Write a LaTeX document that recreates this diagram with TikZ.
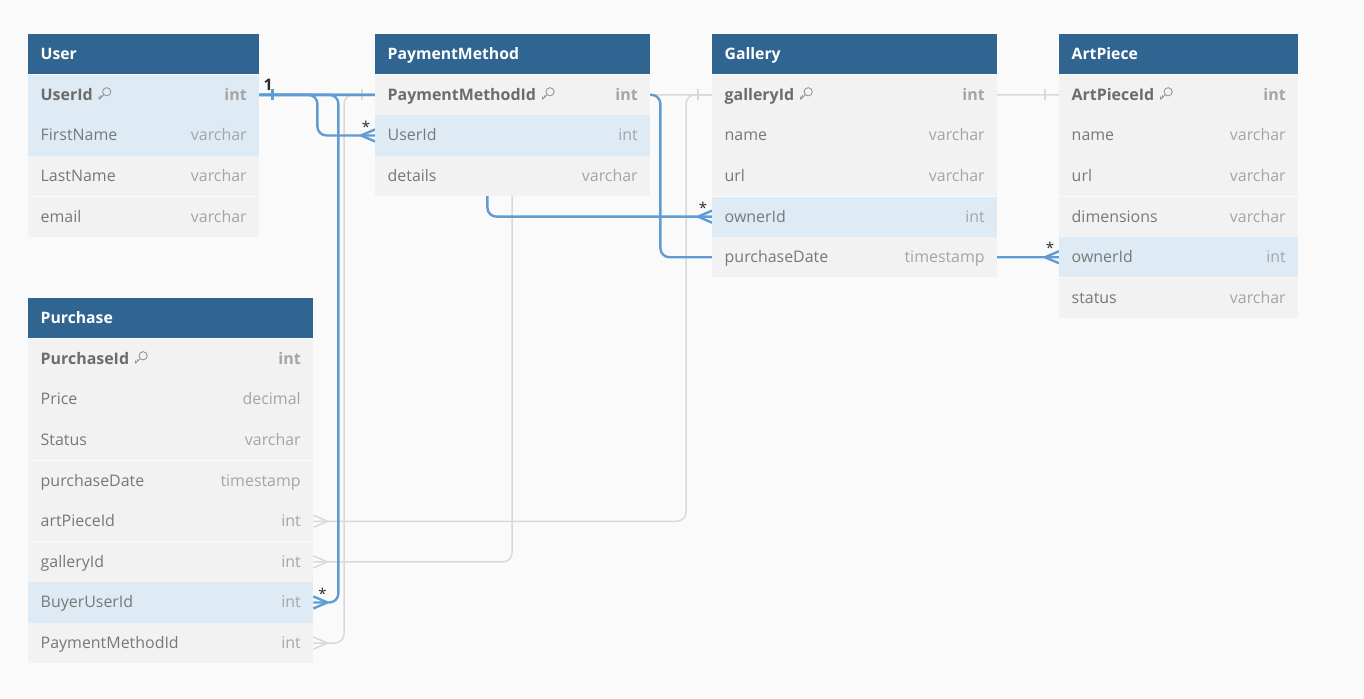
\documentclass[tikz,border=0pt]{standalone}
\usepackage{fontspec}
\setmainfont{Open Sans}
\usepackage{tikz}
\usetikzlibrary{matrix, positioning, calc}

\definecolor{hdblue}{HTML}{306592}
\definecolor{selrow}{HTML}{DEEBF4}
\definecolor{plainrow}{HTML}{F2F2F2}
\definecolor{canvas}{HTML}{FAFAFA}
\definecolor{namegray}{HTML}{787878}
\definecolor{keyname}{HTML}{6C6C6C}
\definecolor{typegray}{HTML}{A5A5A5}
\definecolor{relblue}{HTML}{609CD4}
\definecolor{relgray}{HTML}{D9D9D9}
\definecolor{markgray}{HTML}{2A2A2A}

\pgfdeclarelayer{canvas}
\pgfdeclarelayer{links}
\pgfsetlayers{canvas,links,main}

% column type on the right of a row
\newcommand{\ty}[1]{{\color{typegray}#1}}
% small key glyph after a primary key
\newcommand{\pk}{\hspace{6bp}\tikz[baseline=0bp,x=1bp,y=1bp]{%
  \draw[namegray!80, line width=.85bp] (8.4,8.6) circle (4.1);
  \draw[namegray!80, line width=.85bp, line cap=round, line join=round]
       (5.5,5.7) -- (0.8,1) -- (0.8,3.6) (2.6,2.8) -- (2.6,4.8);}}

\tikzset{
         mytitle/.style={fill=hdblue, text=white, font=\bfseries\fontsize{15.8}{18}\selectfont},
         myrow/.style={fill=plainrow, text=namegray, inner xsep=12.5bp, inner ysep=0pt,
                       minimum height=40.1bp, text height=13bp, text depth=2bp,
                       font=\fontsize{16}{18}\selectfont},
         mysel/.style={fill=selrow},
         mykey/.style={text=keyname, font=\bfseries\fontsize{16}{18}\selectfont},
         mytable/.style={matrix of nodes, inner sep=0pt, row sep=0.5bp, anchor=north west,
                         row 1/.style={every node/.append style={mytitle}}},
         blueline/.style={draw=relblue, line width=2.4bp, rounded corners=9bp},
         grayline/.style={draw=relgray, line width=1.5bp, rounded corners=9bp},
         mymark/.style={text=markgray, inner sep=0pt, font=\fontsize{15}{16}\selectfont},
         crowleft/.pic={\draw (-14,0) -- (0,-6) (-14,0) -- (0,6);},
         crowright/.pic={\draw (14,0) -- (0,-6) (14,0) -- (0,6);},
         onebar/.pic={\draw (0,-5.5) -- (0,5.5);}
      }

\begin{document}
\begin{tikzpicture}[x=1bp, y=-1bp]
  \useasboundingbox (0,0) rectangle (1364,698);
  \begin{pgfonlayer}{canvas}
    \fill[canvas] (0,0) rectangle (1364,698);
  \end{pgfonlayer}

  % tables
  \matrix (user) at (28,34) [mytable, nodes={myrow, text width=206bp}] {
    User \\
    |[mysel, mykey]| UserId\pk\hfill\ty{int} \\
    |[mysel]| FirstName\hfill\ty{varchar} \\
    LastName\hfill\ty{varchar} \\
    email\hfill\ty{varchar} \\
  };
  \matrix (pay) at (375,34) [mytable, nodes={myrow, text width=250bp}] {
    PaymentMethod \\
    |[mykey]| PaymentMethodId\pk\hfill\ty{int} \\
    |[mysel]| UserId\hfill\ty{int} \\
    details\hfill\ty{varchar} \\
  };
  \matrix (gal) at (712,34) [mytable, nodes={myrow, text width=260bp}] {
    Gallery \\
    |[mykey]| galleryId\pk\hfill\ty{int} \\
    name\hfill\ty{varchar} \\
    url\hfill\ty{varchar} \\
    |[mysel]| ownerId\hfill\ty{int} \\
    purchaseDate\hfill\ty{timestamp} \\
  };
  \matrix (art) at (1059,34) [mytable, nodes={myrow, text width=214bp}] {
    ArtPiece \\
    |[mykey]| ArtPieceId\pk\hfill\ty{int} \\
    name\hfill\ty{varchar} \\
    url\hfill\ty{varchar} \\
    dimensions\hfill\ty{varchar} \\
    |[mysel]| ownerId\hfill\ty{int} \\
    status\hfill\ty{varchar} \\
  };
  \matrix (pur) at (28,298) [mytable, nodes={myrow, text width=260bp}] {
    Purchase \\
    |[mykey]| PurchaseId\pk\hfill\ty{int} \\
    Price\hfill\ty{decimal} \\
    Status\hfill\ty{varchar} \\
    purchaseDate\hfill\ty{timestamp} \\
    artPieceId\hfill\ty{int} \\
    galleryId\hfill\ty{int} \\
    |[mysel]| BuyerUserId\hfill\ty{int} \\
    PaymentMethodId\hfill\ty{int} \\
  };

  % references, behind the tables
  \begin{pgfonlayer}{links}
    \draw[grayline] (pay-2-1.west) -- ++(-31,0) |- (pur-9-1.east);
    \draw[grayline] (gal-2-1.west) -- ++(-200,0) |- (pur-7-1.east);
    \draw[grayline] (art-2-1.west) -- ++(-373,0) |- (pur-6-1.east);
    \pic[relgray, line width=1.5bp] at ($(pay-2-1.west)+(-13,0)$) {onebar};
    \pic[relgray, line width=1.5bp] at ($(gal-2-1.west)+(-14,0)$) {onebar};
    \pic[relgray, line width=1.5bp] at ($(art-2-1.west)+(-14,0)$) {onebar};
    \foreach \r in {6,7,9}
      \pic[relgray, line width=1.5bp] at (pur-\r-1.east) {crowright};

    \draw[blueline] (user-2-1.east) -- ++(58,0) |- (pay-3-1.west);
    \draw[blueline] (user-2-1.east) -- ++(79,0) |- (pur-8-1.east);
    \draw[blueline] (user-2-1.east) -- ++(228,0) |- (gal-5-1.west);
    \draw[blueline] (user-2-1.east) -- ++(401,0) |- (art-6-1.west);
    \pic[relblue, line width=2.4bp] at ($(user-2-1.east)+(13,0)$) {onebar};
    \foreach \t/\r in {pay/3, gal/5, art/6}
      \pic[relblue, line width=2.4bp] at (\t-\r-1.west) {crowleft};
    \pic[relblue, line width=2.4bp] at (pur-8-1.east) {crowright};
  \end{pgfonlayer}

  % cardinality marks
  \node[mymark, anchor=base west, font=\bfseries\fontsize{16}{18}\selectfont] (one)
       at ($(user-2-1.east)+(4,-4)$) {1};
  \node[mymark] (manypay) at ($(pay-3-1.west)+(-9,-9)$) {*};
  \node[mymark] (manygal) at ($(gal-5-1.west)+(-9,-9)$) {*};
  \node[mymark] (manyart) at ($(art-6-1.west)+(-9,-9)$) {*};
  \node[mymark] (manypur) at ($(pur-8-1.east)+(9,-9)$) {*};
\end{tikzpicture}
\end{document}
